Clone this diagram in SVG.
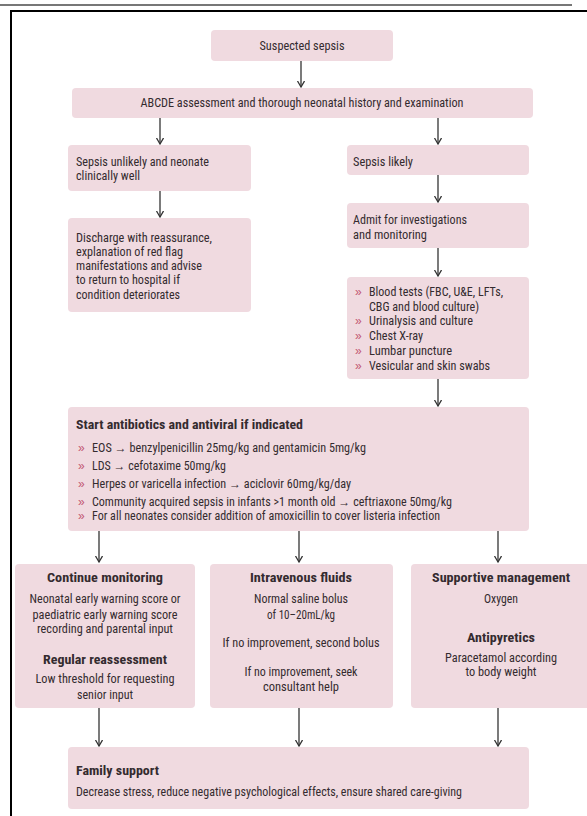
<svg xmlns="http://www.w3.org/2000/svg" width="587" height="816" viewBox="0 0 587 816">
<style>
.box{fill:#f0dae0}
.t{font-family:"Liberation Sans Narrow","Roboto Condensed","Liberation Sans",Arial,sans-serif;font-size:12px;fill:#342b2f}
.b{font-weight:bold;font-size:13.5px}
.m{text-anchor:middle}
.bl{fill:#c25872;font-family:"Liberation Sans",Arial,sans-serif;font-size:12px}
.c{stroke:#333;stroke-width:1.3;fill:none}
</style>
<defs>
<marker id="ah" markerUnits="userSpaceOnUse" markerWidth="10" markerHeight="10" refX="6" refY="3.5" orient="auto">
<path d="M0,0 L6,3.5 L0,7" fill="none" stroke="#333" stroke-width="1.3"/>
</marker>
</defs>
<rect width="587" height="816" fill="#fff"/>
<g id="frame">
<line x1="0" y1="5" x2="572" y2="5" stroke="#777" stroke-width="2"/>
<path d="M11,816 L11,11 L587,11" fill="none" stroke="#000" stroke-width="2"/>
</g>
<g id="connectors">
<line class="c" x1="301" y1="61" x2="301" y2="87" marker-end="url(#ah)"/>
<line class="c" x1="160" y1="118" x2="160" y2="144" marker-end="url(#ah)"/>
<line class="c" x1="438" y1="118" x2="438" y2="144" marker-end="url(#ah)"/>
<line class="c" x1="160" y1="191" x2="160" y2="217" marker-end="url(#ah)"/>
<line class="c" x1="438" y1="175" x2="438" y2="202" marker-end="url(#ah)"/>
<line class="c" x1="438" y1="248" x2="438" y2="276" marker-end="url(#ah)"/>
<line class="c" x1="438" y1="379" x2="438" y2="406" marker-end="url(#ah)"/>
<line class="c" x1="99" y1="531" x2="99" y2="562" marker-end="url(#ah)"/>
<line class="c" x1="299" y1="531" x2="299" y2="562" marker-end="url(#ah)"/>
<line class="c" x1="498" y1="531" x2="498" y2="562" marker-end="url(#ah)"/>
<line class="c" x1="99" y1="708" x2="99" y2="746" marker-end="url(#ah)"/>
<line class="c" x1="299" y1="708" x2="299" y2="746" marker-end="url(#ah)"/>
<line class="c" x1="498" y1="708" x2="498" y2="746" marker-end="url(#ah)"/>
</g>
<g id="suspected">
<rect class="box" x="211" y="30" width="182" height="31" rx="4"/>
<text class="t m" x="302" y="50" textLength="85" lengthAdjust="spacingAndGlyphs">Suspected sepsis</text>
</g>
<g id="abcde">
<rect class="box" x="72" y="88" width="461" height="30" rx="4"/>
<text class="t m" x="302" y="107" textLength="323" lengthAdjust="spacingAndGlyphs">ABCDE assessment and thorough neonatal history and examination</text>
</g>
<g id="unlikely">
<rect class="box" x="68" y="145" width="183" height="46" rx="4"/>
<text class="t" x="76" y="166" textLength="133" lengthAdjust="spacingAndGlyphs">Sepsis unlikely and neonate</text>
<text class="t" x="76" y="180" textLength="64" lengthAdjust="spacingAndGlyphs">clinically well</text>
</g>
<g id="discharge">
<rect class="box" x="68" y="218" width="183" height="94" rx="4"/>
<text class="t" x="76" y="241.5" textLength="136" lengthAdjust="spacingAndGlyphs">Discharge with reassurance,</text>
<text class="t" x="76" y="255.7" textLength="107" lengthAdjust="spacingAndGlyphs">explanation of red flag</text>
<text class="t" x="76" y="270" textLength="126" lengthAdjust="spacingAndGlyphs">manifestations and advise</text>
<text class="t" x="76" y="284.2" textLength="104" lengthAdjust="spacingAndGlyphs">to return to hospital if</text>
<text class="t" x="76" y="298.5" textLength="104" lengthAdjust="spacingAndGlyphs">condition deteriorates</text>
</g>
<g id="likely">
<rect class="box" x="347" y="145" width="182" height="30" rx="4"/>
<text class="t" x="353" y="166" textLength="60" lengthAdjust="spacingAndGlyphs">Sepsis likely</text>
</g>
<g id="admit">
<rect class="box" x="347" y="203" width="182" height="45" rx="4"/>
<text class="t" x="353" y="224" textLength="114" lengthAdjust="spacingAndGlyphs">Admit for investigations</text>
<text class="t" x="353" y="239" textLength="74" lengthAdjust="spacingAndGlyphs">and monitoring</text>
</g>
<g id="tests">
<rect class="box" x="347" y="277" width="182" height="102" rx="4"/>
<text class="bl" x="355" y="296">»</text>
<text class="bl" x="355" y="325">»</text>
<text class="bl" x="355" y="340">»</text>
<text class="bl" x="355" y="354.5">»</text>
<text class="bl" x="355" y="370">»</text>
<text class="t" x="369" y="296" textLength="134" lengthAdjust="spacingAndGlyphs">Blood tests (FBC, U&amp;E, LFTs,</text>
<text class="t" x="369" y="310.5" textLength="110" lengthAdjust="spacingAndGlyphs">CBG and blood culture)</text>
<text class="t" x="369" y="325" textLength="104" lengthAdjust="spacingAndGlyphs">Urinalysis and culture</text>
<text class="t" x="369" y="340" textLength="54" lengthAdjust="spacingAndGlyphs">Chest X-ray</text>
<text class="t" x="369" y="354.5" textLength="83" lengthAdjust="spacingAndGlyphs">Lumbar puncture</text>
<text class="t" x="369" y="370" textLength="121" lengthAdjust="spacingAndGlyphs">Vesicular and skin swabs</text>
</g>
<g id="antibiotics">
<rect class="box" x="68" y="407" width="461" height="124" rx="4"/>
<text class="t b" x="76" y="428.5" textLength="227" lengthAdjust="spacingAndGlyphs">Start antibiotics and antiviral if indicated</text>
<text class="bl" x="78" y="452">»</text>
<text class="bl" x="78" y="470">»</text>
<text class="bl" x="78" y="487.5">»</text>
<text class="bl" x="78" y="505.5">»</text>
<text class="bl" x="78" y="520">»</text>
<text class="t" x="92" y="452" textLength="274" lengthAdjust="spacingAndGlyphs">EOS → benzylpenicillin 25mg/kg and gentamicin 5mg/kg</text>
<text class="t" x="92" y="470" textLength="134" lengthAdjust="spacingAndGlyphs">LDS → cefotaxime 50mg/kg</text>
<text class="t" x="92" y="487.5" textLength="259" lengthAdjust="spacingAndGlyphs">Herpes or varicella infection → aciclovir 60mg/kg/day</text>
<text class="t" x="92" y="505.5" textLength="360" lengthAdjust="spacingAndGlyphs">Community acquired sepsis in infants &gt;1 month old → ceftriaxone 50mg/kg</text>
<text class="t" x="92" y="520" textLength="348" lengthAdjust="spacingAndGlyphs">For all neonates consider addition of amoxicillin to cover listeria infection</text>
</g>
<g id="monitoring">
<rect class="box" x="15" y="564" width="180" height="144" rx="4"/>
<text class="t b m" x="105" y="581.5" textLength="116" lengthAdjust="spacingAndGlyphs">Continue monitoring</text>
<text class="t m" x="105" y="603" textLength="151" lengthAdjust="spacingAndGlyphs">Neonatal early warning score or</text>
<text class="t m" x="105" y="619" textLength="145" lengthAdjust="spacingAndGlyphs">paediatric early warning score</text>
<text class="t m" x="105" y="633" textLength="136" lengthAdjust="spacingAndGlyphs">recording and parental input</text>
<text class="t b m" x="105" y="663.5" textLength="124" lengthAdjust="spacingAndGlyphs">Regular reassessment</text>
<text class="t m" x="105" y="683" textLength="139" lengthAdjust="spacingAndGlyphs">Low threshold for requesting</text>
<text class="t m" x="105" y="699" textLength="56" lengthAdjust="spacingAndGlyphs">senior input</text>
</g>
<g id="fluids">
<rect class="box" x="210" y="564" width="183" height="144" rx="4"/>
<text class="t b m" x="301" y="581.5" textLength="102" lengthAdjust="spacingAndGlyphs">Intravenous fluids</text>
<text class="t m" x="301" y="603" textLength="94" lengthAdjust="spacingAndGlyphs">Normal saline bolus</text>
<text class="t m" x="301" y="619" textLength="68" lengthAdjust="spacingAndGlyphs">of 10–20mL/kg</text>
<text class="t m" x="301" y="647" textLength="157" lengthAdjust="spacingAndGlyphs">If no improvement, second bolus</text>
<text class="t m" x="301" y="676" textLength="113" lengthAdjust="spacingAndGlyphs">If no improvement, seek</text>
<text class="t m" x="301" y="691" textLength="76" lengthAdjust="spacingAndGlyphs">consultant help</text>
</g>
<g id="supportive">
<rect class="box" x="411" y="564" width="185" height="144" rx="4"/>
<text class="t b m" x="501" y="581.5" textLength="138" lengthAdjust="spacingAndGlyphs">Supportive management</text>
<text class="t m" x="501" y="603" textLength="34" lengthAdjust="spacingAndGlyphs">Oxygen</text>
<text class="t b m" x="501" y="641.5" textLength="68" lengthAdjust="spacingAndGlyphs">Antipyretics</text>
<text class="t m" x="501" y="662" textLength="112" lengthAdjust="spacingAndGlyphs">Paracetamol according</text>
<text class="t m" x="501" y="676" textLength="71" lengthAdjust="spacingAndGlyphs">to body weight</text>
</g>
<g id="family">
<rect class="box" x="68" y="747" width="461" height="62" rx="4"/>
<text class="t b" x="76" y="774.5" textLength="83" lengthAdjust="spacingAndGlyphs">Family support</text>
<text class="t" x="76" y="796" textLength="386" lengthAdjust="spacingAndGlyphs">Decrease stress, reduce negative psychological effects, ensure shared care-giving</text>
</g>
</svg>
